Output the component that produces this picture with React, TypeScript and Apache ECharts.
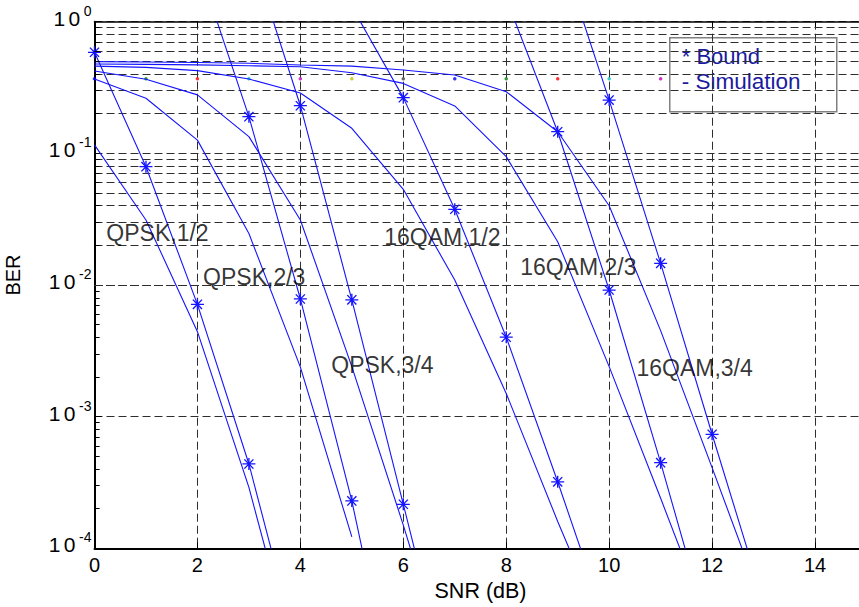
import React, { useEffect, useRef } from 'react';
import * as echarts from 'echarts';

// ---- Data ----
// Simulation curves (x = 0,1,2,... SNR dB)
const qpsk12Sim = [0.116, 0.0312, 0.00442, 2.9e-4, 1.0e-5];
const qpsk23Sim = [0.367, 0.262, 0.126, 0.0246, 0.00238, 1.22e-4];
const qpsk34Sim = [0.422, 0.365, 0.278, 0.134, 0.0312, 0.0024, 1.5e-4, 7.9e-6];
const qam12Sim = [0.46, 0.45, 0.425, 0.367, 0.287, 0.155, 0.0533, 0.0109, 0.0015, 1.6e-4, 1.9e-5];
const qam23Sim = [0.477, 0.474, 0.47, 0.463, 0.455, 0.41, 0.34, 0.229, 0.0944, 0.0213, 0.0024, 2.4e-4, 2.3e-5];
const qam34Sim = [0.497, 0.494, 0.49, 0.483, 0.469, 0.46, 0.43, 0.394, 0.294, 0.146, 0.04, 0.0045, 4.1e-4, 3.6e-5];

// Bound curves: SNR points and values
const qpsk12BoundX = [0, 1, 2, 3, 4];
const qpsk12Bound = [0.586, 0.0792, 0.00713, 4.37e-4, 1.4e-5];
const qpsk23BoundX = [2, 3, 4, 5, 6];
const qpsk23Bound = [2.8, 0.19, 0.00783, 2.29e-4, 3.4e-6];
const qpsk34BoundX = [3, 4, 5, 6, 7];
const qpsk34Bound = [3.8, 0.23, 0.00772, 2.16e-4, 5.9e-6];
const qam12BoundX = [5, 6, 7, 8, 9, 10];
const qam12Bound = [1.3, 0.265, 0.0376, 0.00401, 3.2e-4, 2.3e-5];
const qam23BoundX = [8, 9, 10, 11, 12];
const qam23Bound = [1.5, 0.146, 0.00916, 4.47e-4, 1.9e-5];
const qam34BoundX = [9, 10, 11, 12, 13];
const qam34Bound = [3.9, 0.254, 0.0146, 7.35e-4, 3.9e-5];

// Coloured dots row
const dotX = [0, 1, 2, 3, 4, 5, 6, 7, 8, 9, 10, 11];
const dotY = [0.369, 0.369, 0.369, 0.369, 0.369, 0.369, 0.369, 0.369, 0.369, 0.369, 0.369, 0.369];
const dotColors = ['#0000ff', '#008000', '#ff0000', '#00bfbf', '#bf00bf', '#bfbf00', '#404040',
  '#0000ff', '#008000', '#ff0000', '#00bfbf', '#bf00bf'];

// Curve annotations
const labelNames = ['QPSK,1/2', 'QPSK,2/3', 'QPSK,3/4', '16QAM,1/2', '16QAM,2/3', '16QAM,3/4'];
const labelX = [0.23, 2.11, 4.6, 5.63, 8.27, 10.53];
const labelY = [0.0248, 0.0116, 0.00245, 0.0233, 0.0138, 0.00236];

// Axis ticks
const xMin = 0;
const xMax = 15;
const xInterval = 2;
const yMin = 1e-4;
const yMax = 1;
const decades = [1e-4, 1e-3, 1e-2, 1e-1];
const minorMultipliers = [2, 3, 4, 5, 6, 7, 8, 9];

const BLUE = '#1414ff';
const STAR = 'path://M-10,0L10,0M0,-9L0,9M-7,-7L7,7M-7,7L7,-7';
const GRID = { type: [8, 4], color: '#2e2e2e', width: 1 };

function simSeries(vals: number[]) {
  return {
    type: 'line',
    data: vals.map((v, i) => [i, v]),
    showSymbol: false,
    symbol: 'none',
    lineStyle: { color: BLUE, width: 1.1 },
    silent: true,
    z: 3,
  };
}

function boundSeries(xs: number[], vals: number[]) {
  return {
    type: 'line',
    data: xs.map((x, i) => [x, vals[i]]),
    symbol: STAR,
    symbolSize: [13, 12],
    showAllSymbol: true,
    itemStyle: { color: 'none', borderColor: BLUE, borderWidth: 1.3 },
    lineStyle: { color: BLUE, width: 1.1 },
    silent: true,
    z: 4,
  };
}

export default function App() {
  const ref = useRef<HTMLDivElement>(null);
  useEffect(() => {
    document.body.style.margin = '0';
    const chart = echarts.init(ref.current!, null, { renderer: 'svg' });
    const minorLines: any[] = [];
    const minorTicks: any[] = [];
    decades.forEach((d) => minorMultipliers.forEach((m) => {
      minorLines.push({ yAxis: m * d });
      minorTicks.push([{ coord: [xMin, m * d] }, { coord: [xMin + 0.1, m * d] }]);
    }));
    const font = 'Liberation Sans, Arial, sans-serif';
    const option: any = {
      animation: false,
      textStyle: { fontFamily: font },
      grid: { left: 94.5, top: 21.7, width: 772, height: 526.6, containLabel: false, outerBoundsMode: 'none' },
      xAxis: [
        {
          type: 'value', min: xMin, max: xMax, interval: xInterval,
          name: 'SNR (dB)', nameLocation: 'middle', nameGap: 30,
          nameTextStyle: { fontSize: 21.5, color: '#000', fontFamily: font },
          axisLine: { show: true, lineStyle: { color: '#000', width: 2 } },
          axisTick: { show: true, inside: true, length: 6, lineStyle: { color: '#000' } },
          axisLabel: { fontSize: 20, color: '#000', margin: 7, showMaxLabel: false, fontFamily: font },
          splitLine: { show: true, lineStyle: GRID },
        },
        {
          type: 'value', min: xMin, max: xMax, interval: xInterval, position: 'top',
          axisLine: { show: true, onZero: false, lineStyle: { color: '#000', width: 1.5 } },
          axisTick: { show: true, inside: true, length: 6, lineStyle: { color: '#000' } },
          axisLabel: { show: false },
          splitLine: { show: false },
        },
      ],
      yAxis: {
        type: 'log', logBase: 10, min: yMin, max: yMax,
        name: 'BER', nameLocation: 'middle', nameGap: 72,
        nameTextStyle: { fontSize: 20, color: '#000', fontFamily: font, padding: [0, 0, 0, 20] },
        axisLine: { show: true, lineStyle: { color: '#000', width: 2 } },
        axisTick: { show: true, inside: true, length: 7, lineStyle: { color: '#000' } },
        axisLabel: {
          margin: 3,
          padding: [0, 0, 6, 0],
          formatter: (v: number) => `{a|1}{c|0}{s|${Math.round(Math.log10(v))}}`,
          rich: {
            a: { fontSize: 21, color: '#000', fontFamily: font, verticalAlign: 'bottom', lineHeight: 20, width: 13, align: 'right' },
            c: { fontSize: 21, color: '#000', fontFamily: font, verticalAlign: 'bottom', lineHeight: 20, width: 17, align: 'center' },
            s: { fontSize: 14, color: '#000', fontFamily: font, verticalAlign: 'bottom', lineHeight: 14, padding: [0, 0, 11, 1] },
          },
        },
        splitLine: { show: true, lineStyle: GRID },
      },
      series: [
        {
          type: 'scatter',
          data: dotX.map((x, i) => ({ value: [x, dotY[i]], itemStyle: { color: dotColors[i] } })),
          symbolSize: 3.5,
          silent: true,
          z: 2,
          markLine: {
            silent: true,
            z: 1,
            symbol: 'none',
            label: { show: false },
            lineStyle: GRID,
            emphasis: { disabled: true },
            data: minorLines,
          },
        },
        simSeries(qpsk12Sim),
        simSeries(qpsk23Sim),
        simSeries(qpsk34Sim),
        simSeries(qam12Sim),
        simSeries(qam23Sim),
        simSeries(qam34Sim),
        boundSeries(qpsk12BoundX, qpsk12Bound),
        boundSeries(qpsk23BoundX, qpsk23Bound),
        boundSeries(qpsk34BoundX, qpsk34Bound),
        boundSeries(qam12BoundX, qam12Bound),
        boundSeries(qam23BoundX, qam23Bound),
        boundSeries(qam34BoundX, qam34Bound),
        {
          type: 'scatter',
          data: labelNames.map((n, i) => ({ name: n, value: [labelX[i], labelY[i]] })),
          symbolSize: 0,
          silent: true,
          z: 6,
          label: {
            show: true, position: 'right', distance: 0,
            formatter: (p: any) => p.name,
            fontSize: 23, color: '#000', fontFamily: font,
          },
          markLine: {
            silent: true,
            z: 6,
            symbol: 'none',
            label: { show: false },
            lineStyle: { type: 'solid', color: '#000', width: 1 },
            emphasis: { disabled: true },
            data: minorTicks,
          },
        },
      ],
      graphic: [
        {
          type: 'group', left: 669, top: 37, z: 100,
          children: [
            { type: 'rect', shape: { x: 0, y: 0, width: 167, height: 74 },
              style: { fill: '#fff', stroke: '#808080', lineWidth: 1.5 } },
            { type: 'text', x: 12, y: 19, style: { text: '* Bound', fontSize: 22, fill: '#1a1a9e', fontFamily: font, verticalAlign: 'middle' } },
            { type: 'text', x: 12, y: 44, style: { text: '- Simulation', fontSize: 22.5, fill: '#1a1a9e', fontFamily: font, verticalAlign: 'middle' } },
          ],
        },
      ],
    };
    chart.setOption(option);
    return () => chart.dispose();
  }, []);
  return <div ref={ref} style={{ width: 859, height: 607 }} />;
}
